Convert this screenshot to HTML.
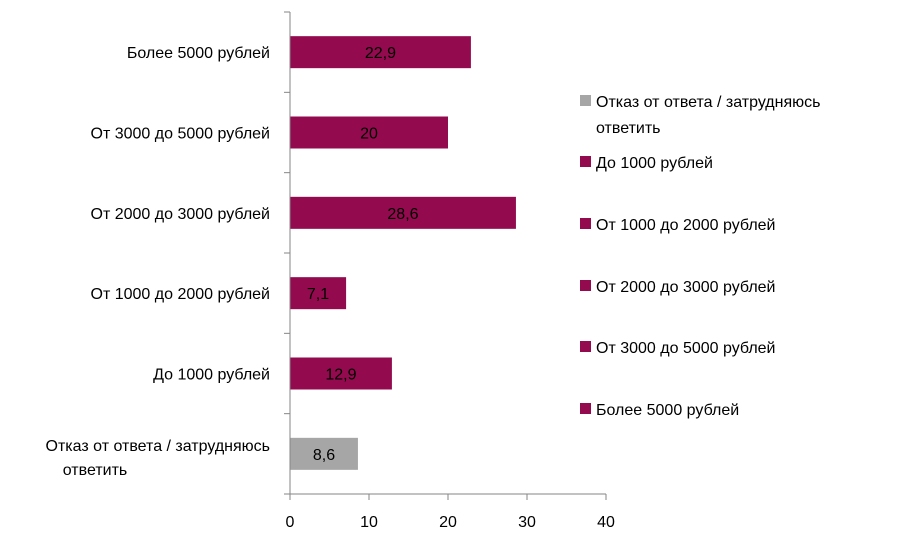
<!DOCTYPE html>
<html><head><meta charset="utf-8"><style>
body{margin:0;background:#fff;font-family:"Liberation Sans",sans-serif;}
svg text{font-family:"Liberation Sans",sans-serif;font-size:16px;fill:#000;}
</style></head><body>
<svg id="chart" width="906" height="541">
<g id="grid"></g><g id="bars"></g><g id="axes"></g><g id="legend"></g>
</svg>
<script>
const categories=["Отказ от ответа / затрудняюсь ответить","До 1000 рублей","От 1000 до 2000 рублей","От 2000 до 3000 рублей","От 3000 до 5000 рублей","Более 5000 рублей"];
const values=[8.6,12.9,7.1,28.6,20,22.9];
const labels=["8,6","12,9","7,1","28,6","20","22,9"];
const ticks=[0,10,20,30,40];
const colors=["#a6a6a6","#930b4e","#930b4e","#930b4e","#930b4e","#930b4e"];
const NS="http://www.w3.org/2000/svg";
const x0=290,x1=606,yTop=12,yBot=494;
const xs=v=>x0+(v-ticks[0])/(ticks[ticks.length-1]-ticks[0])*(x1-x0);
const band=(yBot-yTop)/categories.length;
const yc=i=>yBot-band*(i+0.5);
function mk(tag,attrs,parent,txt){const e=document.createElementNS(NS,tag);for(const k in attrs)e.setAttribute(k,attrs[k]);if(txt!==undefined)e.textContent=txt;parent.appendChild(e);return e;}
const bars=document.getElementById('bars'),axes=document.getElementById('axes'),leg=document.getElementById('legend');
categories.forEach((c,i)=>{
 const r=mk('rect',{x:x0,y:yc(i)-16,width:xs(values[i])-x0,height:32,fill:colors[i]},bars);
 
 
 const t=mk('text',{x:(x0+xs(values[i]))/2,y:yc(i)+6,'text-anchor':'middle'},bars,labels[i]);
 
 
 const words=c.split(' / ');
 if(words.length>1){
  const l=mk('text',{x:270,y:yc(i)-3,'text-anchor':'end'},axes);
  
  
  mk('tspan',{x:270,dy:0},l,words[0]+' / затрудняюсь');
  mk('tspan',{x:95,dy:24,'text-anchor':'middle'},l,'ответить');
 } else {
  const l=mk('text',{x:270,y:yc(i)+6,'text-anchor':'end'},axes,c);
  
  
 }
});
for(let i=0;i<=categories.length;i++){const y=yBot-band*i;mk('line',{x1:284,x2:290,y1:y,y2:y,stroke:'#868686'},axes);}
const ya=mk('line',{x1:x0,x2:x0,y1:yTop,y2:yBot,stroke:'#868686'},axes);

const xa=mk('line',{x1:x0,x2:x1,y1:yBot,y2:yBot,stroke:'#868686'},axes);

ticks.forEach(v=>{mk('line',{x1:xs(v),x2:xs(v),y1:yBot,y2:yBot+6,stroke:'#868686'},axes);
 const t=mk('text',{x:xs(v),y:527,'text-anchor':'middle'},axes,String(v));
 });
const ly=[101,162,224,286,347,409];
categories.forEach((c,i)=>{
 const g=mk('g',{},leg);
 
 
 mk('rect',{x:580,y:ly[i]-6,width:11,height:11,fill:colors[i]},g);
 if(i===0){const t=mk('text',{x:596,y:ly[i]+6},g);mk('tspan',{x:596,dy:0},t,'Отказ от ответа / затрудняюсь');mk('tspan',{x:596,dy:26},t,'ответить');}
 else mk('text',{x:596,y:ly[i]+6},g,c);
});
</script>
</body></html>
